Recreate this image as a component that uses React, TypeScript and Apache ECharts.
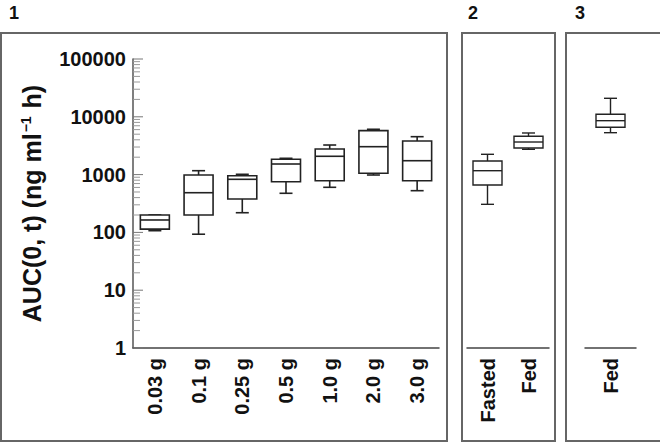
import React, { useEffect, useRef } from "react";
import * as echarts from "echarts";

// Panel 1: dose groups
const doseCategories = ["0.03 g", "0.1 g", "0.25 g", "0.5 g", "1.0 g", "2.0 g", "3.0 g"];
const doseMin = [107, 93, 219, 475, 603, 984, 527];
const doseQ1 = [114, 200, 378, 754, 784, 1053, 784];
const doseMedian = [164, 486, 829, 1525, 2074, 3040, 1739];
const doseQ3 = [200, 984, 957, 1840, 2773, 5754, 3811];
const doseMax = [200, 1168, 1012, 1914, 3250, 6083, 4529];

// Panel 2: fasted vs fed
const foodCategories = ["Fasted", "Fed"];
const foodMin = [306, 2741];
const foodQ1 = [661, 2885];
const foodMedian = [1168, 3664];
const foodQ3 = [1718, 4600];
const foodMax = [2245, 5248];

// Panel 3: fed
const fedCategories = ["Fed"];
const fedMin = [5310];
const fedQ1 = [6580];
const fedMedian = [8570];
const fedQ3 = [11040];
const fedMax = [20900];

const yMajorTicks = [1, 10, 100, 1000, 10000, 100000];
const yMinorTicks = [
  2, 3, 4, 5, 6, 7, 8, 9,
  20, 30, 40, 50, 60, 70, 80, 90,
  200, 300, 400, 500, 600, 700, 800, 900,
  2000, 3000, 4000, 5000, 6000, 7000, 8000, 9000,
  20000, 30000, 40000, 50000, 60000, 70000, 80000, 90000,
];
const panelLabels = ["1", "2", "3"];

const buildRows = (cats: string[], mn: number[], q1: number[], md: number[], q3: number[], mx: number[]) =>
  cats.map((c, i) => [c, mn[i], q1[i], md[i], q3[i], mx[i]]);

const makeRender = (boxHalf: number, capHalf: number, color: string, lw: number) =>
  (params: any, api: any) => {
    const c = api.value(0);
    const [x, yMin] = api.coord([c, api.value(1)]);
    const yQ1 = api.coord([c, api.value(2)])[1];
    const yMed = api.coord([c, api.value(3)])[1];
    const yQ3 = api.coord([c, api.value(4)])[1];
    const yMax = api.coord([c, api.value(5)])[1];
    const st = { stroke: color, lineWidth: lw, fill: "none" };
    return {
      type: "group",
      children: [
        { type: "line", shape: { x1: x, y1: yMax, x2: x, y2: yQ3 }, style: st },
        { type: "line", shape: { x1: x, y1: yQ1, x2: x, y2: yMin }, style: st },
        { type: "line", shape: { x1: x - capHalf, y1: yMax, x2: x + capHalf, y2: yMax }, style: st },
        { type: "line", shape: { x1: x - capHalf, y1: yMin, x2: x + capHalf, y2: yMin }, style: st },
        {
          type: "rect",
          shape: { x: x - boxHalf, y: yQ3, width: boxHalf * 2, height: yQ1 - yQ3 },
          style: { stroke: color, lineWidth: lw, fill: "#fff" },
        },
        { type: "line", shape: { x1: x - boxHalf, y1: yMed, x2: x + boxHalf, y2: yMed }, style: st },
      ],
    };
  };

const makeTickRender = (len: number, color: string) => (params: any, api: any) => {
  const y = api.coord([0, api.value(1)])[1];
  const x0 = params.coordSys.x;
  return {
    type: "line",
    shape: { x1: x0, y1: y, x2: x0 + len, y2: y },
    style: { stroke: color, lineWidth: 1 },
  };
};

export default function App() {
  const ref = useRef<HTMLDivElement>(null);
  useEffect(() => {
    document.body.style.margin = "0";
    const chart = echarts.init(ref.current!, null, { renderer: "svg", width: 660, height: 442 });
    const font = "Liberation Sans";
    const top = 59;
    const height = 289;
    const xAxisCommon = (cats: string[], gridIndex: number, fs: number) => ({
      type: "category",
      gridIndex,
      data: cats,
      boundaryGap: true,
      axisLine: { lineStyle: { color: "#444", width: 1.5 } },
      axisTick: { alignWithLabel: true, inside: true, length: 7, lineStyle: { color: "#999", width: 1 } },
      axisLabel: {
        interval: 0,
        rotate: 90,
        margin: 10,
        color: "#111",
        fontFamily: font,
        fontWeight: "bold",
        fontSize: fs,
      },
      splitLine: { show: false },
    });
    const hiddenY = (gridIndex: number) => ({
      type: "log",
      logBase: 10,
      gridIndex,
      min: 1,
      max: 100000,
      show: false,
      splitLine: { show: false },
    });
    const option: any = {
      animation: false,
      backgroundColor: "#fff",
      grid: [
        { left: 133, top, width: 306, height },
        { left: 467, top, width: 82, height },
        { left: 585, top, width: 51, height },
      ],
      xAxis: [
        xAxisCommon(doseCategories, 0, 20),
        xAxisCommon(foodCategories, 1, 20),
        xAxisCommon(fedCategories, 2, 20),
      ],
      yAxis: [
        {
          type: "log",
          logBase: 10,
          gridIndex: 0,
          min: 1,
          max: 100000,
          name: "{a|AUC(0, t) (ng ml}{s|−1}{a| h)}",
          nameLocation: "middle",
          nameGap: 89,
          nameRotate: 90,
          nameTextStyle: {
            rich: {
              a: { fontFamily: font, fontWeight: "bold", fontSize: 25, color: "#111" },
              s: { fontFamily: font, fontWeight: "bold", fontSize: 14, color: "#111", verticalAlign: "top", padding: [0, 1, 10, 1] },
            },
          },
          axisLine: { show: true, lineStyle: { color: "#555", width: 1.5 } },
          axisTick: { show: false },
          axisLabel: {
            margin: 7,
            color: "#111",
            fontFamily: font,
            fontWeight: "bold",
            fontSize: 20,
            formatter: (v: number) => String(Math.round(v)),
          },
          splitLine: { show: false },
          minorTick: { show: false },
        },
        hiddenY(1),
        hiddenY(2),
      ],
      series: [
        {
          type: "custom",
          xAxisIndex: 0,
          yAxisIndex: 0,
          encode: { x: 0, y: 1 },
          renderItem: makeTickRender(7, "#999"),
          data: yMinorTicks.map((v) => [doseCategories[0], v]),
          silent: true,
          z: 3,
        },
        {
          type: "custom",
          xAxisIndex: 0,
          yAxisIndex: 0,
          encode: { x: 0, y: 1 },
          renderItem: makeTickRender(10, "#777"),
          data: yMajorTicks.map((v) => [doseCategories[0], v]),
          silent: true,
          z: 3,
        },
        {
          type: "custom",
          xAxisIndex: 0,
          yAxisIndex: 0,
          encode: { x: 0, y: [1, 2, 3, 4, 5] },
          renderItem: makeRender(14.5, 6.5, "#222", 1.6),
          data: buildRows(doseCategories, doseMin, doseQ1, doseMedian, doseQ3, doseMax),
          z: 5,
        },
        {
          type: "custom",
          xAxisIndex: 1,
          yAxisIndex: 1,
          encode: { x: 0, y: [1, 2, 3, 4, 5] },
          renderItem: makeRender(14.5, 6.5, "#222", 1.4),
          data: buildRows(foodCategories, foodMin, foodQ1, foodMedian, foodQ3, foodMax),
          z: 5,
        },
        {
          type: "custom",
          xAxisIndex: 2,
          yAxisIndex: 2,
          encode: { x: 0, y: [1, 2, 3, 4, 5] },
          renderItem: makeRender(14.5, 6.5, "#222", 1.4),
          data: buildRows(fedCategories, fedMin, fedQ1, fedMedian, fedQ3, fedMax),
          z: 5,
        },
      ],
      graphic: [
        { type: "rect", shape: { x: 1, y: 33, width: 446, height: 408 }, style: { fill: "none", stroke: "#666", lineWidth: 2 } },
        { type: "rect", shape: { x: 462, y: 33, width: 93, height: 408 }, style: { fill: "none", stroke: "#666", lineWidth: 2 } },
        { type: "rect", shape: { x: 566, y: 33, width: 110, height: 408 }, style: { fill: "none", stroke: "#666", lineWidth: 2 } },
        { type: "text", x: 14, y: 13, style: { text: panelLabels[0], fontFamily: font, fontWeight: "bold", fontSize: 18, fill: "#111", align: "center", verticalAlign: "middle" } },
        { type: "text", x: 473, y: 13, style: { text: panelLabels[1], fontFamily: font, fontWeight: "bold", fontSize: 18, fill: "#111", align: "center", verticalAlign: "middle" } },
        { type: "text", x: 580, y: 13, style: { text: panelLabels[2], fontFamily: font, fontWeight: "bold", fontSize: 18, fill: "#111", align: "center", verticalAlign: "middle" } },
      ],
    };
    chart.setOption(option);
    return () => chart.dispose();
  }, []);
  return <div ref={ref} style={{ position: "fixed", left: 0, top: 0, width: 660, height: 442 }} />;
}
